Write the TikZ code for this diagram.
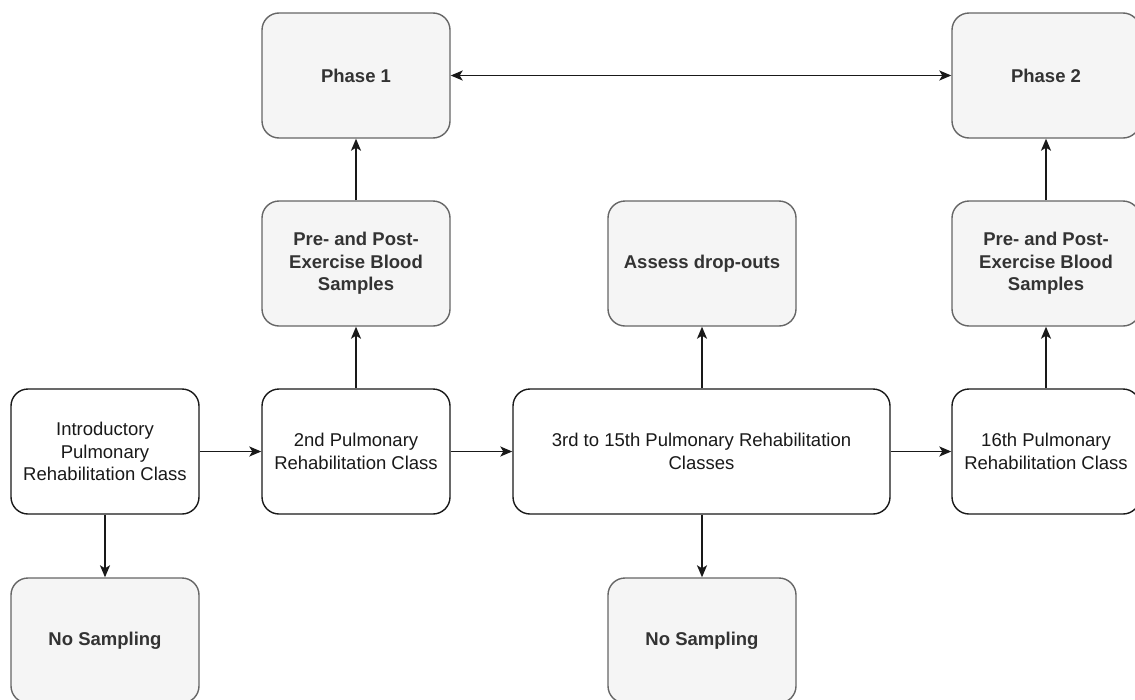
\documentclass[tikz,border=0pt]{standalone}
\usepackage{fontspec}
\setmainfont{Liberation Sans}
\usetikzlibrary{arrows.meta}
\definecolor{grayfill}{HTML}{F5F5F5}
\definecolor{grayline}{HTML}{666666}
\definecolor{graytext}{HTML}{333333}
\tikzset{
  base/.style={rectangle, rounded corners=17pt, line width=1.4pt, minimum width=188pt, minimum height=125pt, inner sep=0pt, align=center, font=\fontsize{18.5}{22.5}\selectfont},
  whitebox/.style={base, draw=black!90, fill=white, text=black!90},
  graybox/.style={base, draw=grayline, fill=grayfill, text=graytext, font=\fontsize{18.5}{22.5}\selectfont\bfseries},
  tip/.style={Stealth[length=12pt,width=10pt,inset=3pt]},
  conn/.style={line width=1.5pt, draw=black!90, -{Stealth[length=12pt,width=10pt,inset=3pt]}},
  conn2/.style={line width=1.5pt, draw=black!90, {Stealth[length=12pt,width=10pt,inset=3pt]}-{Stealth[length=12pt,width=10pt,inset=3pt]}}
}
\begin{document}
\begin{tikzpicture}[x=1pt,y=1pt]
\useasboundingbox (0,0) rectangle (1135,-699);
\begin{scope}
\clip (0,0) rectangle (1135,-699);
\node[whitebox] (intro) at (105,-451.5) {Introductory\\Pulmonary\\Rehabilitation Class};
\node[graybox] (ns1) at (105,-640.5) {No Sampling};
\node[graybox] (ph1) at (356,-75.5) {Phase 1};
\node[graybox] (pre1) at (356,-263.5) {Pre- and Post-\\Exercise Blood\\Samples};
\node[whitebox] (c2) at (356,-451.5) {2nd Pulmonary\\Rehabilitation Class};
\node[whitebox, minimum width=377pt] (c3) at (701.5,-451.5) {3rd to 15th Pulmonary Rehabilitation\\Classes};
\node[graybox] (assess) at (702,-263.5) {Assess drop-outs};
\node[graybox] (ns2) at (702,-640.5) {No Sampling};
\node[whitebox] (c16) at (1046,-451.5) {16th Pulmonary\\Rehabilitation Class};
\node[graybox] (pre2) at (1046,-263.5) {Pre- and Post-\\Exercise Blood\\Samples};
\node[graybox] (ph2) at (1046,-75.5) {Phase 2};
\draw[conn2] (ph1) -- (ph2);
\draw[conn] (intro) -- (c2);
\draw[conn] (c2) -- (c3);
\draw[conn] (c3) -- (c16);
\draw[conn] (intro) -- (ns1);
\draw[conn] (c2) -- (pre1);
\draw[conn] (pre1) -- (ph1);
\draw[conn] (c3.north -| assess) -- (assess);
\draw[conn] (c3.south -| ns2) -- (ns2);
\draw[conn] (c16) -- (pre2);
\draw[conn] (pre2) -- (ph2);
\end{scope}
\end{tikzpicture}
\end{document}
